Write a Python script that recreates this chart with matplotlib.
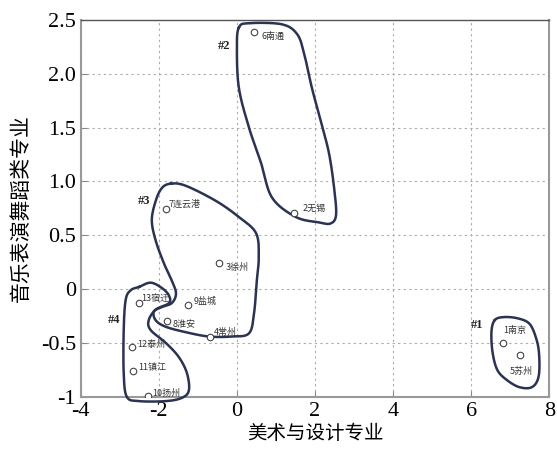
import numpy as np
import matplotlib
matplotlib.use("Agg")
import matplotlib.pyplot as plt

plt.rcParams['font.family'] = ['Liberation Serif', 'Noto Sans CJK SC']

# city scores: x = art & design, y = music/performance/dance
cities = ["1南京", "2无锡", "3徐州", "4常州", "5苏州", "6南通", "7连云港",
          "8淮安", "9盐城", "10扬州", "11镇江", "12泰州", "13宿迁"]
art_score = [6.82, 1.46, -0.46, -0.69, 7.26, 0.44, -1.82,
             -1.79, -1.26, -2.28, -2.67, -2.69, -2.51]
music_score = [-0.50, 0.71, 0.24, -0.44, -0.61, 2.39, 0.74,
               -0.30, -0.15, -0.99, -0.76, -0.54, -0.13]
# label offsets in points
label_dx = [0, 6, 5, 3, -8, 5, 2, 4, 4, 3, 4, 4, 2]
label_dy = [9, 3, -3, 3, -12, -3, 4, -2, 3, 2, 2, 2, 3]

# hand-drawn cluster outlines (data units)
group1 = [(6.60, -0.29), (6.82, -0.26), (7.18, -0.27), (7.49, -0.32), (7.66, -0.45),
          (7.74, -0.60), (7.73, -0.81), (7.56, -0.91), (7.23, -0.91), (6.90, -0.84),
          (6.67, -0.75), (6.55, -0.59), (6.52, -0.40)]
group2 = [(0.05, 2.43), (0.31, 2.47), (1.15, 2.46), (1.54, 2.37), (1.72, 2.19),
          (1.92, 1.87), (2.15, 1.56), (2.36, 1.26), (2.49, 0.94), (2.54, 0.69),
          (2.40, 0.61), (2.10, 0.62), (1.51, 0.67), (0.90, 0.85), (0.62, 1.17),
          (0.31, 1.50), (0.05, 1.87), (0.0, 2.24)]
group3 = [(-1.69, 0.98), (-1.31, 0.96), (-0.54, 0.82), (0.05, 0.67), (0.49, 0.52),
          (0.56, 0.30), (0.51, 0.08), (0.44, -0.22), (0.31, -0.41), (-0.13, -0.44),
          (-0.72, -0.44), (-1.31, -0.40), (-1.82, -0.35), (-2.08, -0.29), (-2.13, -0.21),
          (-1.95, -0.17), (-1.67, -0.13), (-1.56, -0.04), (-1.67, 0.08), (-1.87, 0.24),
          (-2.08, 0.45), (-2.18, 0.64), (-2.08, 0.82), (-1.92, 0.94)]
group4 = [(-2.51, 0.02), (-2.21, 0.06), (-1.92, 0.01), (-1.74, -0.06), (-1.74, -0.13),
          (-2.08, -0.19), (-2.26, -0.29), (-2.21, -0.38), (-1.82, -0.50), (-1.49, -0.63),
          (-1.28, -0.78), (-1.23, -0.94), (-1.41, -1.01), (-1.82, -1.04), (-2.51, -1.04),
          (-2.82, -1.0), (-2.90, -0.78), (-2.90, -0.38), (-2.85, -0.10), (-2.72, -0.01)]
group_names = ["#1", "#2", "#3", "#4"]
group_label_pos = [(6.0, -0.33), (-0.5, 2.26), (-2.55, 0.82), (-3.3, -0.29)]


def smooth_closed(pts, n=20):
    p = np.array(pts)
    m = len(p)
    out = []
    for i in range(m):
        p0, p1, p2, p3 = p[i - 1], p[i], p[(i + 1) % m], p[(i + 2) % m]
        t = np.linspace(0, 1, n, endpoint=False)[:, None]
        seg = 0.5 * ((2 * p1) + (-p0 + p2) * t + (2 * p0 - 5 * p1 + 4 * p2 - p3) * t ** 2
                     + (-p0 + 3 * p1 - 3 * p2 + p3) * t ** 3)
        out.append(seg)
    out = np.vstack(out)
    return np.vstack([out, out[:1]])


fig = plt.figure(figsize=(5.57, 4.54), dpi=100)
ax = fig.add_axes([0.145, 0.126, 0.841, 0.83])

ax.set_xlim(-4, 8)
ax.set_ylim(-1, 2.5)
ax.set_xticks([-4, -2, 0, 2, 4, 6, 8])
ax.set_xticklabels(["-4", "-2", "0", "2", "4", "6", "8"])
ax.set_yticks([-1, -0.5, 0, 0.5, 1.0, 1.5, 2.0, 2.5])
ax.set_yticklabels(["-1", "-0.5", "0", "0.5", "1.0", "1.5", "2.0", "2.5"])
ax.tick_params(direction='in', length=4, labelsize=16, color='#888888')
ax.grid(True, color='#aaaaaa', linestyle=(0, (2, 3)), linewidth=0.8)
for s in ax.spines.values():
    s.set_color('#999999')
    s.set_linewidth(1.5)
ax.spines['top'].set_color('#555555')
ax.spines['top'].set_linewidth(1.0)

for g in [group1, group2, group3, group4]:
    c = smooth_closed(g)
    ax.plot(c[:, 0], c[:, 1], color='#2b3352', linewidth=1.8, clip_on=False, zorder=3)

for name, (gx, gy) in zip(group_names, group_label_pos):
    ax.text(gx, gy, name, fontsize=9, fontweight='bold', ha='left', va='center', color='#222222')

ax.scatter(art_score, music_score, s=22, facecolors='white', edgecolors='#444444',
           linewidths=0.8, zorder=4)
for name, x, y, dx, dy in zip(cities, art_score, music_score, label_dx, label_dy):
    ax.annotate(name, (x, y), xytext=(dx, dy), textcoords='offset points',
                fontsize=6.5, ha='left', va='center', color='#333333',
                family=['Noto Sans CJK SC', 'DejaVu Sans'], zorder=5)

ax.set_xlabel("美术与设计专业", fontsize=14, family=['Noto Sans CJK SC'], labelpad=2)
ax.set_ylabel("音乐表演舞蹈类专业", fontsize=15, family=['Noto Sans CJK SC'], labelpad=6)

fig.savefig("out.png", dpi=100, facecolor='white')
